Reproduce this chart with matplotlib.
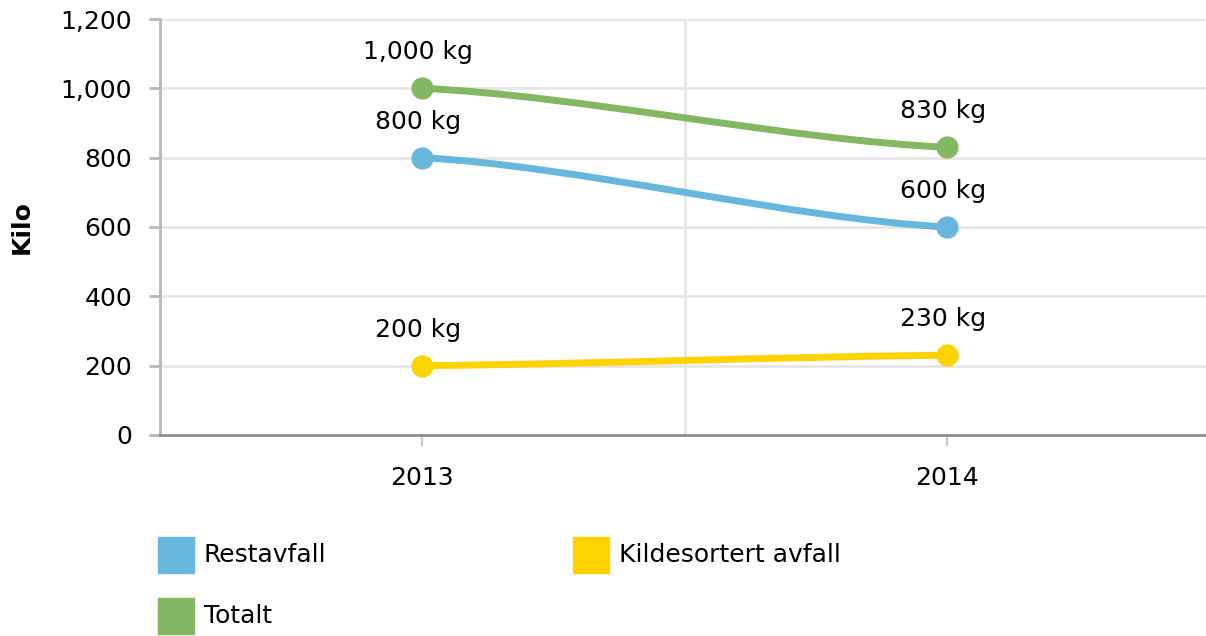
import matplotlib
matplotlib.use("Agg")
import matplotlib.pyplot as plt
from matplotlib.path import Path
from matplotlib.patches import PathPatch, Rectangle
from matplotlib.ticker import FuncFormatter

# data
years = ["2013", "2014"]
serier = ["Restavfall", "Kildesortert avfall", "Totalt"]
restavfall = [800, 600]
kildesortert = [200, 230]
totalt = [1000, 830]
farger = ["#67b7dc", "#fdd400", "#84b761"]

plt.rcParams["font.family"] = ["DejaVu Sans"]
fs = 18

fig = plt.figure(figsize=(12.06, 6.36), dpi=100)
ax = fig.add_axes([160 / 1206, 201 / 636, 1049 / 1206, 416 / 636])

x = list(range(len(years)))

def glatt_linje(verdier, farge):
    # smoothed line between the points (bezier)
    verts = [(x[0], verdier[0])]
    koder = [Path.MOVETO]
    for i in range(1, len(x)):
        dx = x[i] - x[i - 1]
        dy = verdier[i] - verdier[i - 1]
        verts += [(x[i - 1] + dx * 0.3, verdier[i - 1] + dy * 0.12),
                  (x[i] - dx * 0.3, verdier[i] - dy * 0.12),
                  (x[i], verdier[i])]
        koder += [Path.CURVE4, Path.CURVE4, Path.CURVE4]
    patch = PathPatch(Path(verts, koder), facecolor="none", edgecolor=farge,
                      lw=5, capstyle="round", zorder=3)
    ax.add_patch(patch)
    ax.plot(x, verdier, "o", color=farge, markersize=15, zorder=4)
    for xi, v in zip(x, verdier):
        ax.annotate(f"{v:,} kg", (xi, v), xytext=(-3, 26), textcoords="offset points",
                    ha="center", va="center", fontsize=fs, color="#000000", zorder=5)

for verdier, farge in zip([restavfall, kildesortert, totalt], farger):
    glatt_linje(verdier, farge)

ax.set_xlim(-0.5, 1.5)
ax.set_ylim(0, 1200)
ax.set_yticks(range(0, 1201, 200))
ax.yaxis.set_major_formatter(FuncFormatter(lambda v, p: f"{int(v):,}"))
ax.set_xticks(x)
ax.set_xticklabels(years)
ax.set_xticks([0.5], minor=True)

ax.grid(axis="y", color="#e6e6e6", lw=2)
ax.grid(axis="x", which="minor", color="#e6e6e6", lw=2)
ax.set_axisbelow(True)

for s in ["top", "right"]:
    ax.spines[s].set_visible(False)
ax.spines["left"].set_color("#b8b8b8")
ax.spines["left"].set_linewidth(2)
ax.spines["bottom"].set_color("#8c8c8c")
ax.spines["bottom"].set_linewidth(2)

ax.tick_params(axis="y", length=8, width=2, color="#b8b8b8", pad=12, labelsize=fs)
ax.tick_params(axis="x", which="major", length=8, width=1.5, color="#c8c8c8", pad=14, labelsize=fs)
ax.tick_params(axis="x", which="minor", length=0)

ax.set_ylabel("Kilo", fontsize=fs, fontweight="bold")
ax.yaxis.set_label_coords(-0.12, 0.5)

# legend
leg_pos = [(158, 537), (573, 537), (158, 598)]
for (px, py), navn, farge in zip(leg_pos, serier, farger):
    fig.add_artist(Rectangle((px / 1206, 1 - (py + 36) / 636), 36 / 1206, 36 / 636,
                             transform=fig.transFigure, color=farge))
    fig.text((px + 46) / 1206, 1 - (py + 18) / 636, navn, fontsize=fs,
             va="center", ha="left", color="#000000")

fig.savefig("out.png", dpi=100)
